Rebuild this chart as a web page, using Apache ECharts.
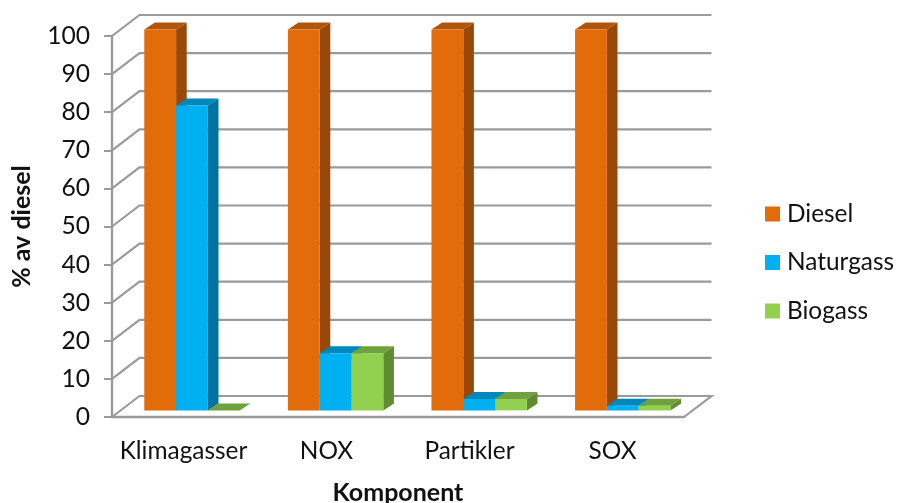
<!DOCTYPE html>
<html><head><meta charset="utf-8">
<style>html,body{margin:0;padding:0;background:#fff}#c{width:897px;height:503px}</style>
<script src="https://cdn.jsdelivr.net/npm/echarts@6/dist/echarts.min.js"></script>
</head><body><div id="c"></div>
<script>
const categories = ['Klimagasser', 'NOX', 'Partikler', 'SOX'];
const yTicks = [0, 10, 20, 30, 40, 50, 60, 70, 80, 90, 100];
const diesel = [100, 100, 100, 100];
const naturgass = [80, 15, 3, 1.2];
const biogass = [0, 15, 3, 1.2];

const FONT = 'Lato, "Open Sans", sans-serif';
const LINE = '#9a9a9a';
const WALL_DX = 27.5, WALL_DY = -21;
const BAR_DX = 8.5, BAR_DY = -6.6, DEPTH_DX = 10.6, DEPTH_DY = -7;
const BAR_FRAC = 0.2225, GROUP_EXTRA = 0.6;

function wallItem(params, api) {
  const cs = params.coordSys;
  const y = api.coord([0, api.value(0)])[1];
  const l = cs.x, r = cs.x + cs.width;
  const style = { stroke: LINE, lineWidth: 2.2, fill: null };
  const pts = [[l, y], [l + WALL_DX, y + WALL_DY], [r + WALL_DX, y + WALL_DY]];
  if (api.value(0) === 0) pts.push([r, y]);
  return { type: 'polyline', shape: { points: pts }, style: style, silent: true };
}
function barSeries(name, values, idx, front, top, side) {
  return {
    name: name, type: 'custom', coordinateSystem: 'cartesian2d', clip: false, z: 3 + idx,
    itemStyle: { color: front },
    encode: { x: 0, y: 1 },
    data: values.map((v, i) => [i, v]),
    renderItem: function (params, api) {
      const cat = api.value(0), val = api.value(1);
      const p = api.coord([cat, val]), p0 = api.coord([cat, 0]);
      const w = api.size([1, 0])[0] * BAR_FRAC;
      const x0 = p[0] - 1.5 * w + idx * w + BAR_DX + cat * GROUP_EXTRA, x1 = x0 + w;
      const yt = p[1] + BAR_DY, yb = p0[1] + BAR_DY;
      const poly = (pts, c) => ({ type: 'polygon', shape: { points: pts }, style: { fill: c, stroke: null } });
      return { type: 'group', children: [
        poly([[x1, yt], [x1 + DEPTH_DX, yt + DEPTH_DY], [x1 + DEPTH_DX, yb + DEPTH_DY], [x1, yb]], side),
        poly([[x0, yt], [x1, yt], [x1 + DEPTH_DX, yt + DEPTH_DY], [x0 + DEPTH_DX, yt + DEPTH_DY]], top),
        poly([[x0, yt], [x1, yt], [x1, yb], [x0, yb]], front)
      ] };
    }
  };
}
const chart = echarts.init(document.getElementById('c'), null, { renderer: 'canvas' });
chart.setOption({
  animation: false,
  backgroundColor: '#fff',
  grid: { left: 112, right: 213, top: 36, bottom: 86, containLabel: false, outerBoundsMode: 'none' },
  legend: {
    orient: 'vertical', left: 765, top: 202, padding: 0, itemWidth: 15, itemHeight: 15, itemGap: 24.5, icon: 'rect',
    data: ['Diesel', 'Naturgass', 'Biogass'],
    textStyle: { fontFamily: FONT, fontSize: 24.4, lineHeight: 24, color: '#111', padding: [0, 0, 0, 2] }
  },
  xAxis: {
    type: 'category', data: categories, name: 'Komponent', nameLocation: 'middle', nameGap: 63,
    nameTextStyle: { fontFamily: FONT, fontSize: 25, fontWeight: 'bold', color: '#111' },
    axisLine: { lineStyle: { color: LINE, width: 2.4 } }, axisTick: { show: false },
    axisLabel: { fontFamily: FONT, fontSize: 24.4, color: '#111', margin: 22, interval: 0 },
    splitLine: { show: false }
  },
  yAxis: {
    type: 'value', min: 0, max: 100, interval: 10, name: '% av diesel', nameLocation: 'middle', nameGap: 78,
    nameTextStyle: { fontFamily: FONT, fontSize: 25, fontWeight: 'bold', color: '#111' },
    axisLine: { show: true, lineStyle: { color: LINE, width: 2.4 } },
    axisTick: { show: true, length: 8, lineStyle: { color: LINE, width: 2 } },
    axisLabel: { fontFamily: FONT, fontSize: 24.6, color: '#111', margin: 22 },
    splitLine: { show: false }
  },
  series: [
    { type: 'custom', name: 'wall', coordinateSystem: 'cartesian2d', clip: false, z: 1,
      encode: { y: 0 }, data: yTicks.map(v => [v]), renderItem: wallItem, silent: true },
    barSeries('Diesel', diesel, 0, '#E36C0A', '#B0560B', '#984807'),
    barSeries('Naturgass', naturgass, 1, '#00B0F0', '#0088BC', '#00739F'),
    barSeries('Biogass', biogass, 2, '#92D050', '#6FA23C', '#5F8B33')
  ]
});
</script></body></html>
